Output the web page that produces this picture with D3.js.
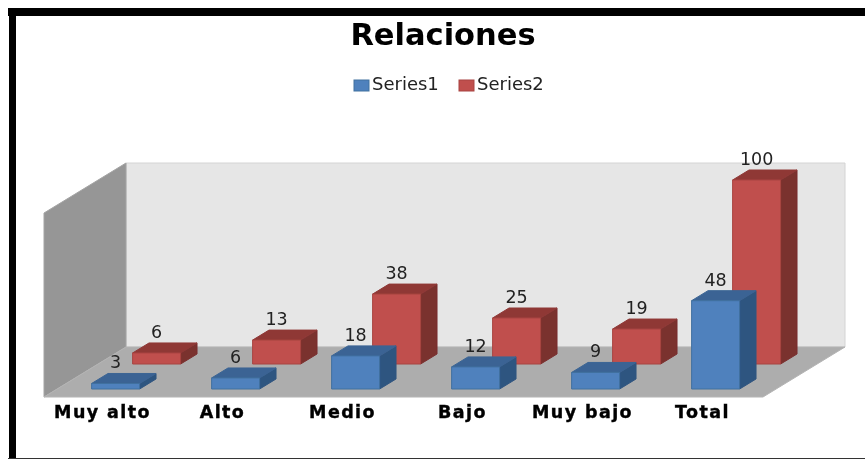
<!DOCTYPE html>
<html><head><meta charset="utf-8">
<script src="https://cdn.jsdelivr.net/npm/d3@7"></script>
<style>html,body{margin:0;padding:0;background:#fff}svg{display:block}</style>
</head><body><svg id="c" width="865" height="459"></svg>
<script>
const categories = ["Muy alto","Alto","Medio","Bajo","Muy bajo","Total"];
const series1 = [3,6,18,12,9,48];
const series2 = [6,13,38,25,19,100];
const seriesNames = ["Series1","Series2"];
const seriesColors = [
  {front:"#4f81bd",top:"#3b6494",side:"#2f5580",edge:"#41709f"},
  {front:"#c0504d",top:"#8f3836",side:"#7a302f",edge:"#a84441"}
];
const svg = d3.select("#c");
const W = 865, H = 459;
svg.append("defs").append("filter").attr("id","soft").attr("x","-5%").attr("y","-5%").attr("width","110%").attr("height","110%")
  .append("feGaussianBlur").attr("stdDeviation",0.4);
// plot geometry
const x = d3.scaleBand().domain(categories).range([42.5,762.5]).paddingInner(0.6).paddingOuter(0.3);
const y = d3.scaleLinear().domain([0,100]).range([0,184]);
const dz = d3.scaleLinear().domain([0,1]).range([397,347]);   // floor depth: screen y
const dx = d3.scaleLinear().domain([0,1]).range([0,82]);      // floor depth: screen x shift
const P = (px,v,z) => [px+dx(z), dz(z)-y(v)];
const line = pts => "M"+pts.map(p=>p.join(",")).join("L")+"Z";
const x0 = 44, x1 = 763, ymax = 100;
// frame
svg.append("rect").attr("x",8).attr("y",8).attr("width",W-8).attr("height",8).attr("fill","#000");
svg.append("rect").attr("x",9).attr("y",8).attr("width",7).attr("height",H-8).attr("fill","#000");
svg.append("rect").attr("x",8).attr("y",458).attr("width",W-8).attr("height",1).attr("fill","#333");
const root = svg.append("g").attr("filter","url(#soft)");
// walls
root.append("path").attr("d",line([P(x1,0,1),P(x1,ymax,1),P(x0,ymax,1),P(x0,0,1)])).attr("fill","#e6e6e6").attr("stroke","#d4d4d4").attr("stroke-width",1);
root.append("path").attr("d",line([P(x0,0,0),P(x0,ymax,0),P(x0,ymax,1),P(x0,0,1)])).attr("fill","#969696").attr("stroke","#a4a4a4").attr("stroke-width",1);
root.append("path").attr("d",line([P(x0,0,0),P(x1,0,0),P(x1,0,1),P(x0,0,1)])).attr("fill","#adadad").attr("stroke","#b4b4b4").attr("stroke-width",1);
// bars
const zFront = [0.16,0.66], depth = 0.2;
const data = [series1,series2];
function bars(si){
  const c = seriesColors[si], z0 = zFront[si], z1 = z0+depth;
  const g = root.append("g").attr("class","series"+si);
  const gs = g.selectAll("g").data(categories).join("g");
  gs.each(function(cat,i){
    const v = data[si][i], l = x(cat), r = l+x.bandwidth();
    const s = d3.select(this);
    s.append("path").attr("d",line([P(r,0,z0),P(r,v,z0),P(r,v,z1),P(r,0,z1)])).attr("fill",c.side).attr("stroke",c.side);
    s.append("path").attr("d",line([P(l,v,z0),P(r,v,z0),P(r,v,z1),P(l,v,z1)])).attr("fill",c.top).attr("stroke",c.top);
    s.append("path").attr("d",line([P(l,0,z0),P(r,0,z0),P(r,v,z0),P(l,v,z0)])).attr("fill",c.front).attr("stroke",c.edge);
  });
}
bars(1); bars(0);
// value labels
[1,0].forEach(si=>{
  categories.forEach((cat,i)=>{
    const v = data[si][i], p = P(x(cat)+x.bandwidth()/2, v, zFront[si]+depth);
    root.append("text").attr("x",p[0]-dx(depth)).attr("y",p[1]-5)
      .attr("text-anchor","middle").attr("font-family","'DejaVu Sans'").attr("font-size",17.5)
      .attr("fill","#222").text(v);
  });
});
// category labels
categories.forEach((cat,i)=>{
  root.append("text").attr("x",x(cat)+x.bandwidth()/2).attr("y",418)
    .attr("text-anchor","middle").attr("font-family","'DejaVu Sans'").attr("font-weight","bold")
    .attr("font-size",17.5).attr("letter-spacing",1.4).attr("stroke","#000").attr("stroke-width",0.4).attr("fill","#000").text(cat);
});
// title
root.append("text").attr("x",443).attr("y",45).attr("text-anchor","middle")
  .attr("font-family","'DejaVu Sans'").attr("font-weight","bold").attr("font-size",30.5).attr("fill","#000").text("Relaciones");
// legend
const lx = d3.scaleOrdinal().domain(seriesNames).range([354,459]);
seriesNames.forEach((n,i)=>{
  root.append("rect").attr("x",lx(n)).attr("y",80).attr("width",15).attr("height",11).attr("fill",seriesColors[i].front).attr("stroke",seriesColors[i].edge);
  root.append("text").attr("x",lx(n)+18).attr("y",90).attr("font-family","'DejaVu Sans'").attr("font-size",18).attr("fill","#222").text(n);
});
</script></body></html>
